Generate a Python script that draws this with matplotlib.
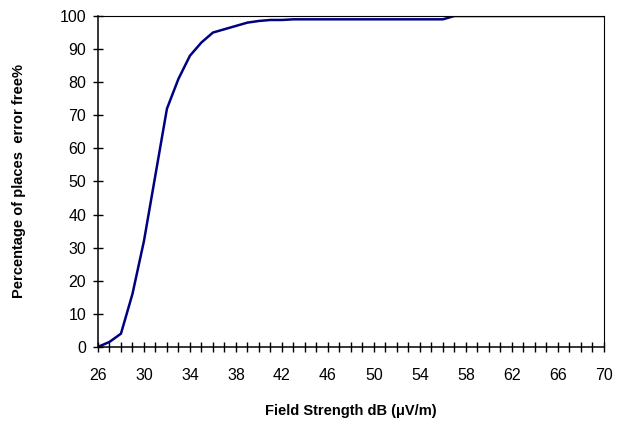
import numpy as np
import matplotlib.pyplot as plt
from matplotlib.ticker import MultipleLocator

plt.rcParams['font.family'] = ['Liberation Sans', 'DejaVu Sans']

# field strength (dB uV/m) and percentage of error-free places
field_db = list(range(26, 71))
pct_free = [0, 1.5, 4, 16, 32, 52, 72, 81, 88, 92, 95, 96, 97, 98, 98.5, 98.8,
            98.8, 99, 99, 99, 99, 99, 99, 99, 99, 99, 99, 99, 99, 99, 99,
            100, 100, 100, 100, 100, 100, 100, 100, 100, 100, 100, 100, 100, 100]
x_labels = list(range(26, 71, 4))

fig = plt.figure(figsize=(6.2, 4.21), dpi=100)
ax = fig.add_axes([0.158, 0.176, 0.816, 0.786])

ax.plot(field_db, pct_free, color='#000080', linewidth=1.8)

ax.set_xlim(26, 70)
ax.set_ylim(0, 100)
ax.set_xticks(x_labels)
ax.set_xticks(field_db, minor=True)
ax.yaxis.set_major_locator(MultipleLocator(10))

ax.tick_params(axis='both', which='both', direction='inout', length=7, width=1,
               labelsize=11.5, colors='black')
ax.tick_params(axis='x', which='major', pad=12)
ax.tick_params(axis='y', which='major', pad=5)
for side in ['top', 'right']:
    ax.spines[side].set_linewidth(0.8)
for side in ['left', 'bottom']:
    ax.spines[side].set_linewidth(1.1)

ax.set_xlabel('Field Strength dB (\u03bcV/m)', fontsize=10.5, fontweight='bold', labelpad=15)
ax.set_ylabel('Percentage of places  error free%', fontsize=10.5, fontweight='bold', labelpad=24)

fig.savefig('out.png', dpi=100)
